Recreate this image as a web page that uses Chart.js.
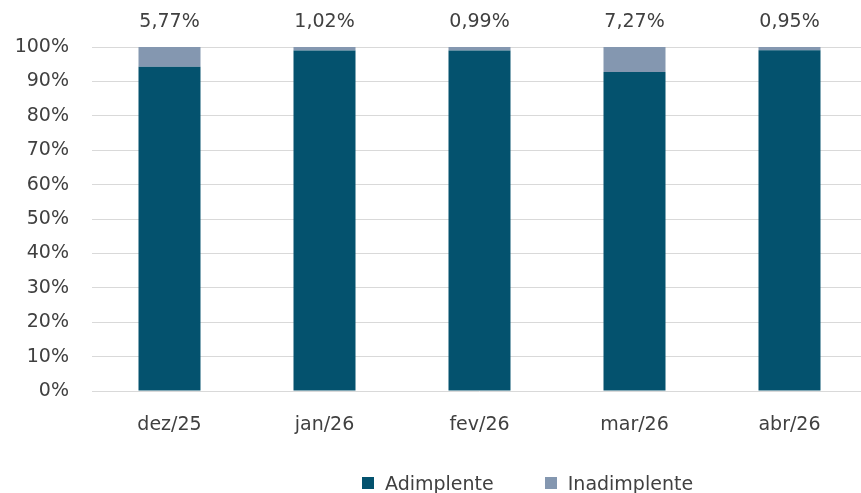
<!DOCTYPE html>
<html lang="pt-BR">
<head>
<meta charset="utf-8">
<script src="https://cdn.jsdelivr.net/npm/chart.js@4.4.1/dist/chart.umd.min.js"></script>
<style>
  html, body { margin: 0; padding: 0; background: #fff; overflow: hidden; }
  #wrap { position: relative; width: 861px; height: 493px; overflow: hidden; }
  #box { position: absolute; left: 0; top: 0; width: 867px; height: 493px; }
  #legend {
    position: absolute; left: 362px; top: 472px; margin: 0; padding: 0; list-style: none;
    display: flex; font-family: "DejaVu Sans", sans-serif; font-size: 19px; color: #404040; white-space: nowrap;
  }
  #legend li { display: flex; align-items: center; margin-right: 51px; line-height: 22px; }
  .legend-dot { display: inline-block; width: 12px; height: 12px; margin-right: 11px; }
</style>
</head>
<body>
<div id="wrap">
  <div id="box"><canvas id="chart"></canvas></div>
  <ul id="legend"></ul>
</div>
<script>
// ---------- data ----------
const months = ["dez/25", "jan/26", "fev/26", "mar/26", "abr/26"];
const adimplente = [94.23, 98.98, 99.01, 92.73, 99.05];
const inadimplente = [5.77, 1.02, 0.99, 7.27, 0.95];
const yTicks = [0, 10, 20, 30, 40, 50, 60, 70, 80, 90, 100];

const colorAdim = "#04526e";
const colorInad = "#8497b0";
const textColor = "#404040";
const fontFamily = "'DejaVu Sans', sans-serif";

function fmtPct(v) {
  return v.toFixed(2).replace(".", ",") + "%";
}

// labels with the inadimplente share above each bar
const topLabels = {
  id: "topLabels",
  afterDatasetsDraw(chart) {
    const { ctx } = chart;
    const meta = chart.getDatasetMeta(1);
    ctx.save();
    ctx.font = "19px " + fontFamily;
    ctx.fillStyle = textColor;
    ctx.textAlign = "center";
    ctx.textBaseline = "middle";
    meta.data.forEach((bar, i) => {
      ctx.fillText(fmtPct(inadimplente[i]), bar.x, bar.y - 25);
    });
    ctx.restore();
  }
};

const chart = new Chart(document.getElementById("chart"), {
  type: "bar",
  data: {
    labels: months,
    datasets: [
      { label: "Adimplente", data: adimplente, backgroundColor: colorAdim, barPercentage: 0.4, categoryPercentage: 1 },
      { label: "Inadimplente", data: inadimplente, backgroundColor: colorInad, barPercentage: 0.4, categoryPercentage: 1 }
    ]
  },
  options: {
    responsive: true,
    maintainAspectRatio: false,
    animation: false,
    layout: { padding: { top: 47, left: 15, right: 0, bottom: 57 } },
    plugins: { legend: { display: false }, tooltip: { enabled: false } },
    scales: {
      x: {
        stacked: true,
        afterFit: (axis) => { axis.height = 45; },
        grid: { display: false, drawTicks: false },
        border: { display: false },
        ticks: { color: textColor, font: { family: fontFamily, size: 19 }, padding: 23 }
      },
      y: {
        stacked: true,
        min: 0,
        max: 100,
        afterFit: (axis) => { axis.width = 77; },
        afterBuildTicks: (axis) => { axis.ticks = yTicks.map((v) => ({ value: v })); },
        grid: { color: "#d9d9d9", lineWidth: 1, drawTicks: false },
        border: { display: false },
        ticks: { color: textColor, font: { family: fontFamily, size: 19 }, padding: 23, callback: (v) => v + "%" }
      }
    }
  },
  plugins: [topLabels]
});

document.getElementById("legend").innerHTML = chart.data.datasets
  .map((d) => `<li><span class="legend-dot" style="background:${d.backgroundColor}"></span>${d.label}</li>`)
  .join("");
</script>
</body>
</html>
